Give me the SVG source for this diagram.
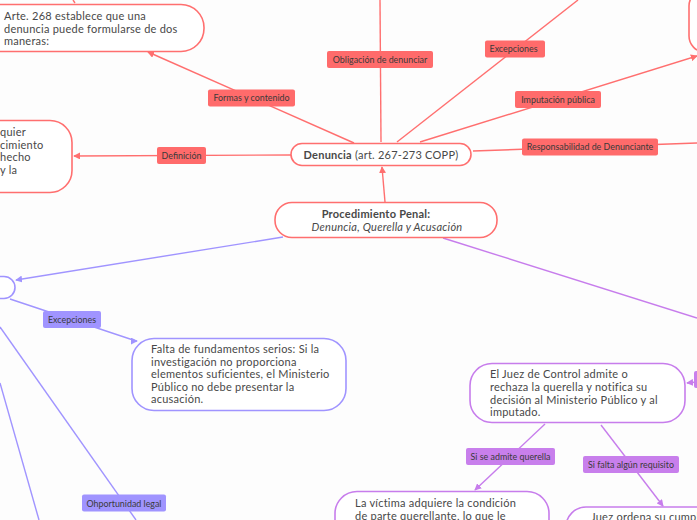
<svg xmlns="http://www.w3.org/2000/svg" width="697" height="520" viewBox="0 0 697 520">
<style>
text{font-family:"Lato","Liberation Sans",sans-serif;fill:#484848}
.t{font-size:11px;letter-spacing:.24px}
.l{font-size:8.9px;fill:#3a3a3a}
.n{fill:#fff;stroke-width:1.6}
.r{stroke:#ff6f6f}.b{stroke:#a094ff}.p{stroke:#c77dec}
.e{fill:none;stroke-width:1.4}
.lr{fill:#ff6b6b}.lb{fill:#a094ff}.lp{fill:#c87fec}
</style>
<defs>
<marker id="ar" viewBox="0 0 8 8" refX="7" refY="4" markerWidth="7" markerHeight="7" markerUnits="userSpaceOnUse" orient="auto"><path d="M0 0L8 4L0 8z" fill="#ff6f6f"/></marker>
<marker id="ab" viewBox="0 0 8 8" refX="7" refY="4" markerWidth="7" markerHeight="7" markerUnits="userSpaceOnUse" orient="auto"><path d="M0 0L8 4L0 8z" fill="#a094ff"/></marker>
<marker id="ap" viewBox="0 0 8 8" refX="7" refY="4" markerWidth="7" markerHeight="7" markerUnits="userSpaceOnUse" orient="auto"><path d="M0 0L8 4L0 8z" fill="#c77dec"/></marker>
</defs>
<rect width="697" height="520" fill="#fdfdfd"/>
<g id="connectors">
<path class="e r" d="M73 0L75 3"/>
<path class="e r" d="M354 143L148 52" marker-end="url(#ar)"/>
<path class="e r" d="M291 155L74 156" marker-end="url(#ar)"/>
<path class="e r" d="M381 142L380 0"/>
<path class="e r" d="M397 142L578 0"/>
<path class="e r" d="M420 142L697 56" marker-end="url(#ar)"/>
<path class="e r" d="M473 151L697 143"/>
<path class="e r" d="M385 202L382 167" marker-end="url(#ar)"/>
<path class="e b" d="M283 237L16 280" marker-end="url(#ab)"/>
<path class="e b" d="M10 299L136 341L137 341" marker-end="url(#ab)"/>
<path class="e b" d="M0 327L136 520"/>
<path class="e b" d="M0 383L39 520"/>
<path class="e p" d="M443 238L697 318"/>
<path class="e p" d="M697 382L687 383" marker-end="url(#ap)"/>
<path class="e p" d="M545 424L475 490" marker-end="url(#ap)"/>
<path class="e p" d="M601 425L663 506" marker-end="url(#ap)"/>
</g>
<g id="n-formas"><rect class="n r" x="-40" y="4.500" width="244" height="47" rx="23"/><text class="t"><tspan x="4" y="20">Arte. 268 establece que una</tspan><tspan x="4" y="33">denuncia puede formularse de dos</tspan><tspan x="4" y="45">maneras:</tspan></text></g>
<g id="n-definicion"><rect class="n r" x="-60" y="120.500" width="132" height="72" rx="22"/><text class="t"><tspan x="0" y="136">quier</tspan><tspan x="0" y="149">cimiento</tspan><tspan x="0" y="161">hecho</tspan><tspan x="0" y="174">y la</tspan></text></g>
<g id="n-denuncia"><rect class="n r" x="291" y="143.500" width="180" height="22" rx="11"/><text x="381" y="158.500" text-anchor="middle" class="t"><tspan font-weight="700">Denuncia</tspan> (art. 267-273 COPP)</text></g>
<g id="n-proc"><rect class="n r" x="275" y="202.500" width="222" height="35" rx="17"/><text text-anchor="middle" class="t"><tspan x="376" y="218" font-weight="700">Procedimiento Penal:</tspan><tspan x="387" y="231" font-style="italic">Denuncia, Querella y Acusación</tspan></text></g>
<g id="n-topright"><rect class="n r" x="689" y="-10" width="60" height="62" rx="16"/></g>
<g id="n-acusacion"><rect class="n b" x="-60" y="276.500" width="75" height="22" rx="11"/></g>
<g id="n-falta"><rect class="n b" x="132" y="338.500" width="214" height="72" rx="22"/><text class="t"><tspan x="151" y="353">Falta de fundamentos serios: Si la</tspan><tspan x="151" y="366">investigación no proporciona</tspan><tspan x="151" y="378">elementos suficientes, el Ministerio</tspan><tspan x="151" y="391">Público no debe presentar la</tspan><tspan x="151" y="403">acusación.</tspan></text></g>
<g id="n-juez"><rect class="n p" x="470" y="363.500" width="215" height="59" rx="22"/><text class="t"><tspan x="490" y="378">El Juez de Control admite o</tspan><tspan x="490" y="391">rechaza la querella y notifica su</tspan><tspan x="490" y="404">decisión al Ministerio Público y al</tspan><tspan x="490" y="416">imputado.</tspan></text></g>
<g id="n-victima"><rect class="n p" x="335" y="491.500" width="214" height="60" rx="22"/><text class="t"><tspan x="355" y="507">La víctima adquiere la condición</tspan><tspan x="355" y="520">de parte querellante, lo que le</tspan></text></g>
<g id="n-ordena"><rect class="n p" x="566" y="507" width="180" height="60" rx="20"/><text class="t"><tspan x="591" y="521">Juez ordena su cumpl</tspan></text></g>
<g id="l-formas"><rect class="lr" x="208" y="89.500" width="87" height="17" rx="2"/><text class="l" x="251.500" y="101" text-anchor="middle">Formas y contenido</text></g>
<g id="l-definicion"><rect class="lr" x="157" y="147" width="49" height="17" rx="2"/><text class="l" x="181.500" y="158.500" text-anchor="middle">Definición</text></g>
<g id="l-obligacion"><rect class="lr" x="327" y="51" width="106" height="17" rx="2"/><text class="l" x="380" y="63" text-anchor="middle">Obligación de denunciar</text></g>
<g id="l-excepciones"><rect class="lr" x="485" y="40.500" width="60" height="17" rx="2"/><text class="l" x="489.500" y="52">Excepciones</text></g>
<g id="l-imputacion"><rect class="lr" x="515" y="91" width="86" height="17" rx="2"/><text class="l" x="558" y="102.500" text-anchor="middle">Imputación pública</text></g>
<g id="l-resp"><rect class="lr" x="522" y="138.500" width="136" height="17" rx="2"/><text class="l" x="590" y="150" text-anchor="middle">Responsabilidad de Denunciante</text></g>
<g id="l-exc2"><rect class="lb" x="43" y="311" width="58" height="17" rx="2"/><text class="l" x="72" y="323" text-anchor="middle">Excepciones</text></g>
<g id="l-opor"><rect class="lb" x="82" y="494.500" width="84" height="17" rx="2"/><text class="l" x="124" y="506.500" text-anchor="middle">Ohportunidad legal</text></g>
<g id="l-admite"><rect class="lp" x="466" y="448" width="89" height="17" rx="2"/><text class="l" x="510.500" y="460" text-anchor="middle">Si se admite querella</text></g>
<g id="l-falta"><rect class="lp" x="583" y="456" width="96" height="17" rx="2"/><text class="l" x="631" y="467.500" text-anchor="middle">Si falta algún requisito</text></g>
<g id="l-right"><rect class="lp" x="694" y="371" width="20" height="17" rx="2"/></g>
</svg>
